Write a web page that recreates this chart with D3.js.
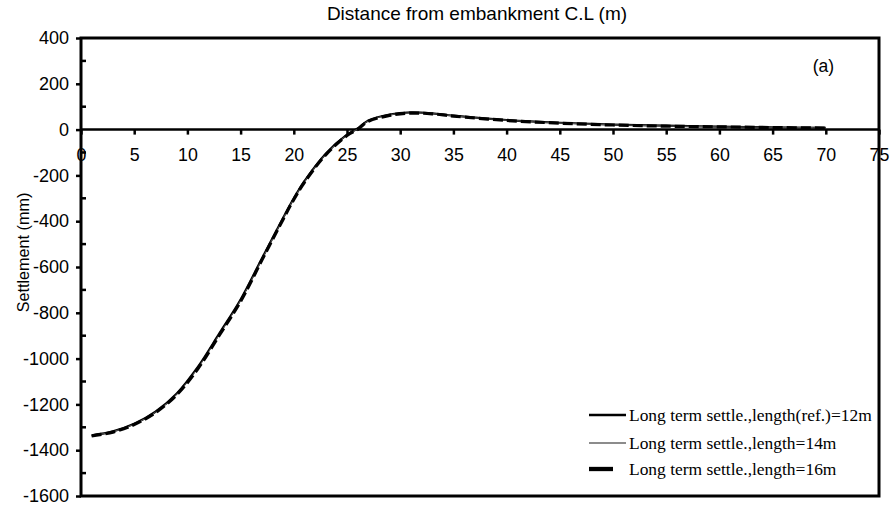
<!DOCTYPE html>
<html>
<head>
<meta charset="utf-8">
<script src="https://cdn.jsdelivr.net/npm/d3@7"></script>
<style>
  body { margin: 0; background: #fff; }
  svg { display: block; }
</style>
</head>
<body>
<svg id="chart" width="893" height="506"></svg>
<script>
// Distance from embankment centre line (m)
const distance = [1, 3, 5, 7, 9, 11, 13, 15, 17, 19, 20, 21, 23, 25, 26, 27, 29, 31, 33, 35, 40, 45, 50, 55, 60, 65, 70];

// Long-term settlement (mm) for each pile length
const settle12 = [-1335, -1318, -1285, -1232, -1152, -1035, -890, -742, -563, -385, -300, -225, -105, -22, 5, 40, 66, 75, 71, 61, 42, 30, 22, 17, 13, 10, 8];
const settle14 = [-1336, -1319, -1286, -1234, -1155, -1040, -895, -746, -567, -388, -302, -228, -108, -24, 3, 38, 64, 73, 70, 60, 41, 29, 21, 16, 12, 10, 8];
const settle16 = [-1338, -1321, -1288, -1236, -1158, -1043, -898, -750, -570, -391, -305, -230, -110, -26, 1, 36, 62, 72, 69, 59, 40, 28, 20, 15, 12, 9, 7];

const seriesNames = [
  "Long term settle.,length(ref.)=12m",
  "Long term settle.,length=14m",
  "Long term settle.,length=16m"
];

const xTicks = [0, 5, 10, 15, 20, 25, 30, 35, 40, 45, 50, 55, 60, 65, 70, 75];
const yTicks = [400, 200, 0, -200, -400, -600, -800, -1000, -1200, -1400, -1600];
const yMinorTicks = [300, 100, -100, -300, -500, -700, -900, -1100, -1300, -1500];

const svg = d3.select("#chart");
const plotLeft = 81, plotRight = 879, plotTop = 38, plotBottom = 496;

const x = d3.scaleLinear().domain([0, 75]).range([plotLeft, plotRight]);
const y = d3.scaleLinear().domain([-1600, 400]).range([plotBottom, plotTop]);

const sans = "'Liberation Sans', Arial, sans-serif";
const serif = "'Liberation Serif', 'Times New Roman', serif";
const plain = d => String(d); // ASCII hyphen for negatives

// Title
svg.append("text")
  .attr("x", 477).attr("y", 20)
  .attr("text-anchor", "middle")
  .attr("font-family", sans).attr("font-size", 19)
  .text("Distance from embankment C.L (m)");

// Y axis label
svg.append("text")
  .attr("transform", "translate(29,252.5) rotate(-90)")
  .attr("text-anchor", "middle")
  .attr("font-family", sans).attr("font-size", 16.2)
  .text("Settlement (mm)");

// Left axis with labelled major ticks
const yAxis = d3.axisLeft(y).tickValues(yTicks).tickSize(5).tickPadding(7).tickFormat(plain);
const gy = svg.append("g").attr("transform", `translate(${plotLeft},0)`).call(yAxis);
gy.select(".domain").remove();
gy.selectAll(".tick line").attr("stroke", "#000").attr("stroke-width", 2.5);
gy.selectAll(".tick text").attr("font-family", sans).attr("font-size", 18).attr("fill", "#000");

// Minor ticks on the inner side of the left axis
svg.append("g").selectAll("line").data(yMinorTicks).join("line")
  .attr("x1", plotLeft).attr("x2", plotLeft + 5)
  .attr("y1", d => y(d)).attr("y2", d => y(d))
  .attr("stroke", "#000").attr("stroke-width", 2.5);

// Horizontal axis through zero
const xAxis = d3.axisBottom(x).tickValues(xTicks).tickSize(5).tickPadding(13.5).tickFormat(plain);
const gx = svg.append("g").attr("transform", `translate(0,${y(0)})`).call(xAxis);
gx.select(".domain").remove();
gx.selectAll(".tick line").attr("stroke", "#000").attr("stroke-width", 2.5);
gx.selectAll(".tick text").attr("font-family", sans).attr("font-size", 17.8).attr("fill", "#000");
svg.append("line")
  .attr("x1", plotLeft).attr("x2", plotRight)
  .attr("y1", y(0)).attr("y2", y(0))
  .attr("stroke", "#000").attr("stroke-width", 2.5);

// Plot frame
svg.append("rect")
  .attr("x", plotLeft).attr("y", plotTop)
  .attr("width", plotRight - plotLeft).attr("height", plotBottom - plotTop)
  .attr("fill", "none").attr("stroke", "#000").attr("stroke-width", 3);

// Panel tag
svg.append("text")
  .attr("x", 823.5).attr("y", 71.5)
  .attr("text-anchor", "middle")
  .attr("font-family", sans).attr("font-size", 17.5)
  .text("(a)");

// Curves
const line = d3.line().curve(d3.curveCatmullRom.alpha(0.5));
const styles = [
  { data: settle12, stroke: "#000", width: 2.2, dash: null },
  { data: settle14, stroke: "#555", width: 1, dash: null },
  { data: settle16, stroke: "#000", width: 3.2, dash: "10,4" }
];

styles.forEach(s => {
  svg.append("path")
    .attr("d", line(distance.map((d, i) => [x(d), y(s.data[i])])))
    .attr("fill", "none")
    .attr("stroke", s.stroke)
    .attr("stroke-width", s.width)
    .attr("stroke-dasharray", s.dash);
});

// Legend
const legendRows = [415, 443, 469];
const legendTextX = 629, legendTextRight = 872;
const legendSample = [
  { x1: 589, x2: 626, w: 2.5, c: "#000" },
  { x1: 589, x2: 626, w: 1.3, c: "#666" },
  { x1: 589, x2: 613, w: 4.3, c: "#000" }
];
const legendTexts = seriesNames.map((name, i) => {
  svg.append("line")
    .attr("x1", legendSample[i].x1).attr("x2", legendSample[i].x2)
    .attr("y1", legendRows[i]).attr("y2", legendRows[i])
    .attr("stroke", legendSample[i].c)
    .attr("stroke-width", legendSample[i].w);
  return svg.append("text")
    .attr("x", legendTextX).attr("y", legendRows[i] + 6)
    .attr("font-family", serif).attr("font-size", 17.5)
    .text(name);
});
// Size the legend font so the longest entry fills the space up to the frame
const widest = legendTexts[0].node().getComputedTextLength();
if (widest > 0) {
  const fitted = Math.min(21, 17.5 * (legendTextRight - legendTextX) / widest);
  legendTexts.forEach(t => t.attr("font-size", fitted));
}
</script>
</body>
</html>
